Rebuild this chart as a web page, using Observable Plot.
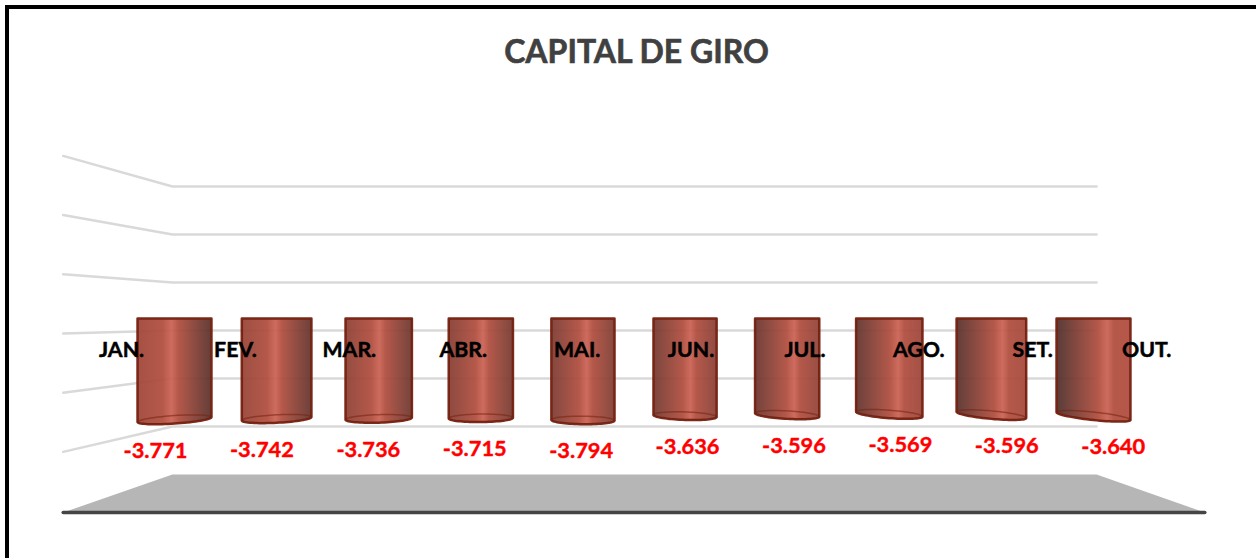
<!DOCTYPE html>
<html lang="pt">
<head>
<meta charset="utf-8">
<title>CAPITAL DE GIRO</title>
<script src="https://cdn.jsdelivr.net/npm/d3@7"></script>
<script src="https://cdn.jsdelivr.net/npm/@observablehq/plot@0.6"></script>
<style>
  html, body { margin: 0; padding: 0; background: #fff; overflow: hidden; }
  #chart { position: relative; width: 1256px; height: 558px; }
  #chart svg { display: block; position: absolute; left: 0; top: 0; }
  #frame { position: absolute; left: 5px; top: 5px; right: 0; bottom: 0;
           border-left: 4px solid #000; border-top: 4px solid #000; }
</style>
</head>
<body>
<div id="chart"><div id="frame"></div></div>
<script>
const title = "CAPITAL DE GIRO";
const months = ["JAN.", "FEV.", "MAR.", "ABR.", "MAI.", "JUN.", "JUL.", "AGO.", "SET.", "OUT."];
const values = [-3771, -3742, -3736, -3715, -3794, -3636, -3596, -3569, -3596, -3640];
const gridLevels = [6000, 4000, 2000, 0, -2000, -4000];
const floorLevel = -6000;

const fmt = d3.formatLocale({decimal: ",", thousands: ".", grouping: [3], currency: ["R$", ""], minus: "-"}).format(",d");

// 3D chart projection: the y scale is the back wall; the other planes map onto it.
const frontPlane = L => L * 1.2333 - 125;
const barPlane = v => 500 + 1.1167 * v;
const valueLabelPlane = v => -821 + 1.1125 * v;
const catLabelLevel = -833;
const backLeft = -0.02, backRight = 9.03, frontLeft = -1.09, frontRight = 10.09, floorFront = -7583;
const catLabelX = i => -0.519 + i * 1.1155;
const valueLabelX = i => -0.186 + i * 1.0421;
const halfWidth = i => (63 + 0.54 * (i - 4.5) ** 2) / 2 / 102.11;
const bottomTilt = i => (i - 3.5) * 0.7 / 0.024;   // in y-scale units
const ellipseDepth = 4 / 0.024;

const rows = months.map((m, i) => ({m, i, v: values[i]}));

// Cylinder outline: flat top, curved bottom
function bodyShape({i, v}) {
  const a = halfWidth(i), yb = barPlane(v), t = bottomTilt(i);
  const pts = [{x: i - a, y: barPlane(0)}, {x: i + a, y: barPlane(0)}];
  for (const th of d3.range(0, 37)) {
    const ang = th / 36 * Math.PI;
    pts.push({x: i + a * Math.cos(ang), y: yb - t * Math.cos(ang) - ellipseDepth * Math.sin(ang)});
  }
  pts.push(pts[0]);
  return pts;
}
function backArc({i, v}) {
  const a = halfWidth(i), yb = barPlane(v), t = bottomTilt(i);
  return d3.range(0, 37).map(th => {
    const ang = th / 36 * Math.PI;
    return {x: i + a * Math.cos(ang), y: yb - t * Math.cos(ang) + ellipseDepth * Math.sin(ang)};
  });
}

const shadeLeft = d3.interpolateRgb("#a04638", "#4f302c");
const shadeRight = d3.interpolateRgb("#59322c", "#b04c3e");
function gradients() {
  const svg = d3.create("svg:g");
  const defs = svg.append("defs");
  rows.forEach(({i}) => {
    const g = defs.append("linearGradient").attr("id", `cyl${i}`).attr("x1", 0).attr("x2", 1).attr("y1", 0).attr("y2", 0);
    const h = 0.46 + i * 0.025;
    const stops = [[0, shadeLeft(i / 9)], [h - 0.12, "#b04e3f"], [h, "#cb6354"], [h + 0.09, "#b04e3f"], [1, shadeRight(i / 9)]];
    for (const [o, c] of stops) g.append("stop").attr("offset", o).attr("stop-color", c);
  });
  return svg.node();
}

const gridPaths = gridLevels.map(L => [
  {x: frontLeft, y: frontPlane(L)},
  {x: backLeft, y: L},
  {x: backRight, y: L}
]);
const floorPoly = [
  {x: backLeft, y: floorLevel}, {x: backRight, y: floorLevel},
  {x: frontRight, y: floorFront}, {x: frontLeft, y: floorFront},
  {x: backLeft, y: floorLevel}
];
const floorEdge = [floorPoly[3], floorPoly[2]];

const plot = Plot.plot({
  width: 1256, height: 558,
  marginTop: 0, marginRight: 0, marginBottom: 0, marginLeft: 0,
  style: {fontFamily: "Lato, sans-serif", background: "transparent", overflow: "visible"},
  x: {type: "linear", domain: [0, 9], range: [174, 1093], axis: null},
  y: {type: "linear", domain: [6000, -6000], range: [186, 474], axis: null},
  marks: [
    gradients,
    ...gridPaths.map(p => Plot.line(p, {x: "x", y: "y", stroke: "#d9d9d9", strokeWidth: 2.5, curve: "linear"})),
    Plot.line(floorPoly, {x: "x", y: "y", fill: "#b6b6b6", stroke: "none", curve: "linear"}),
    Plot.line(floorEdge, {x: "x", y: "y", stroke: "#454545", strokeWidth: 3.5, strokeLinecap: "round", curve: "linear"}),
    ...rows.flatMap(r => [
      Plot.line(bodyShape(r), {x: "x", y: "y", fill: `url(#cyl${r.i})`, fillOpacity: 0.94, stroke: "#74200f", strokeWidth: 2.5, strokeOpacity: 0.95, strokeLinejoin: "round", curve: "linear"}),
      Plot.line(backArc(r), {x: "x", y: "y", stroke: "#74200f", strokeWidth: 1.5, strokeOpacity: 0.55, curve: "linear"})
    ]),
    Plot.text(rows, {x: d => catLabelX(d.i), y: () => catLabelLevel, text: "m", fill: "#000", stroke: "#000", strokeWidth: 0.5, fontSize: 21.3, fontWeight: 700, textAnchor: "middle"}),
    Plot.text(rows, {x: d => valueLabelX(d.i), y: d => valueLabelPlane(d.v), text: d => fmt(d.v), fill: "#ff0000", stroke: "#ff0000", strokeWidth: 0.4, fontSize: 21.8, fontWeight: 700, textAnchor: "middle"}),
    Plot.text([title], {frameAnchor: "top", dy: 52, dx: 8, text: d => d, fill: "#404040", stroke: "#404040", strokeWidth: 0.6, fontSize: 32, fontWeight: 700, lineAnchor: "middle"})
  ]
});
document.getElementById("chart").appendChild(plot);
</script>
</body>
</html>
